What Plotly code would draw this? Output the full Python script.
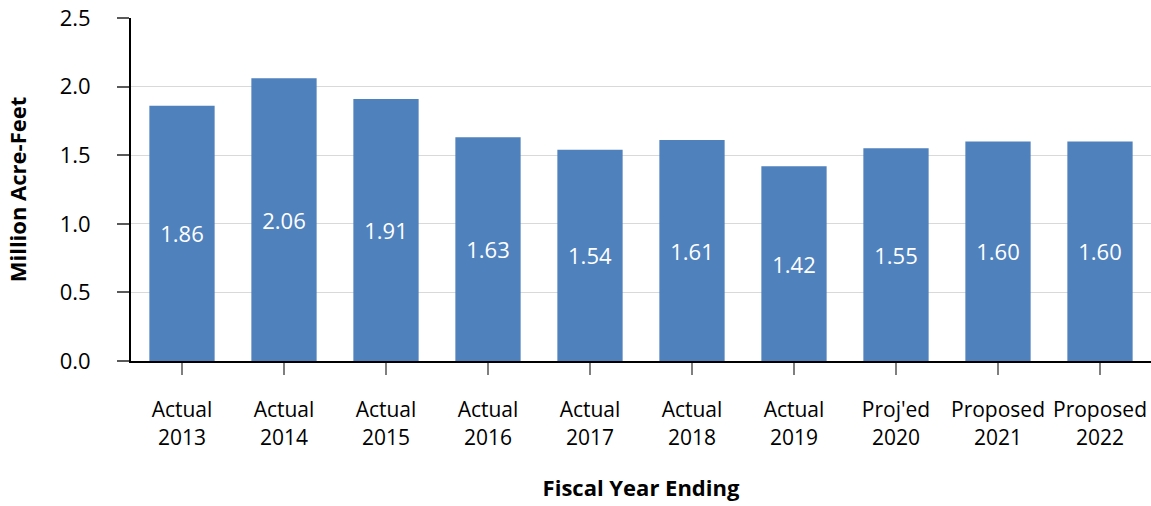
import plotly.graph_objects as go

categories = ["Actual<br>2013", "Actual<br>2014", "Actual<br>2015", "Actual<br>2016", "Actual<br>2017",
              "Actual<br>2018", "Actual<br>2019", "Proj'ed<br>2020", "Proposed<br>2021", "Proposed<br>2022"]
values = [1.86, 2.06, 1.91, 1.63, 1.54, 1.61, 1.42, 1.55, 1.60, 1.60]
labels = [f"{v:.2f}" for v in values]

FONT = "Open Sans, Liberation Sans, sans-serif"

fig = go.Figure(go.Bar(
    x=categories, y=values, text=labels,
    textposition="inside", insidetextanchor="middle",
    textfont=dict(color="white", size=22, family=FONT),
    marker=dict(color="#4F81BD", line=dict(width=0)),
    width=0.64,
))

fig.update_layout(
    width=1151, height=506,
    margin=dict(l=131, r=0, t=18, b=145),
    paper_bgcolor="white", plot_bgcolor="white",
    showlegend=False,
    font=dict(family=FONT, color="#000000"),
    uniformtext=dict(mode=False),
)
fig.update_xaxes(
    range=[-0.5, 9.5],
    showline=True, linecolor="black", linewidth=2,
    ticks="outside", ticklen=12, tickcolor="#7F7F7F", tickwidth=1.5,
    tickfont=dict(size=21, family=FONT),
    ticklabelstandoff=17, ticklabeloverflow="allow",
    title=dict(text="<b>Fiscal Year Ending</b>", font=dict(size=22, family=FONT), standoff=31),
    showgrid=False, automargin=False,
)
fig.update_yaxes(
    range=[0, 2.5], dtick=0.5, tickformat=".1f",
    showline=True, linecolor="black", linewidth=2,
    ticks="outside", ticklen=12, tickcolor="#595959", tickwidth=1.5,
    tickfont=dict(size=22, family=FONT),
    ticklabelstandoff=22, ticklabeloverflow="allow",
    showgrid=True, gridcolor="#D9D9D9", gridwidth=1,
    zeroline=False, automargin=False,
    title=dict(text="<b>Million Acre-Feet</b>", font=dict(size=22, family=FONT), standoff=27),
)

# remove the page's default body margin / scrollbars so the figure fills the window exactly
fig.write_html(
    "out.html",
    config={"displayModeBar": False},
    post_script="document.body.style.margin='0';document.documentElement.style.overflow='hidden';",
)
